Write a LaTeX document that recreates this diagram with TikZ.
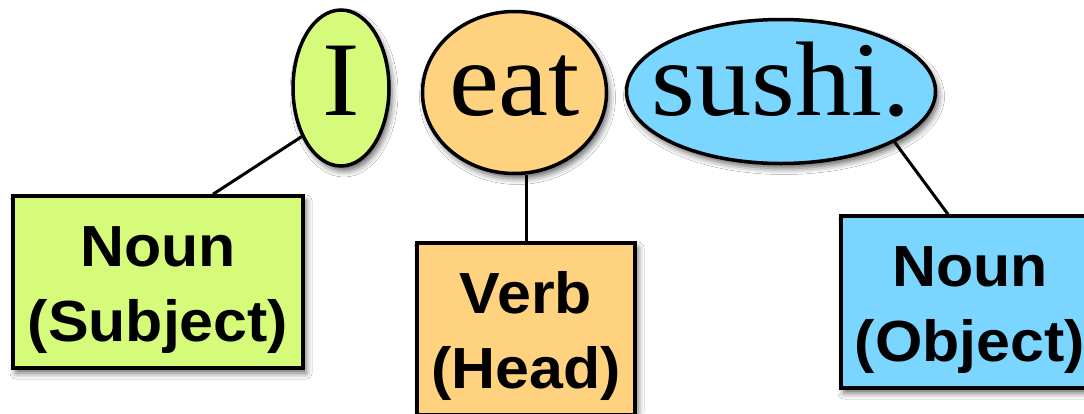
\documentclass[tikz,border=0pt]{standalone}
\usepackage{fontspec}
\newfontfamily\wordfont[FakeStretch=1.06]{Liberation Serif}
\newfontfamily\labfont[FakeStretch=1.05]{Liberation Sans Bold}
\usetikzlibrary{shapes.geometric,shadows.blur}
\definecolor{cgreen}{HTML}{D6FA7A}
\definecolor{corange}{HTML}{FED27E}
\definecolor{cblue}{HTML}{7AD5FF}
\tikzset{
  myshadow/.style={blur shadow={shadow xshift=3pt, shadow yshift=-5pt, shadow blur radius=6pt, shadow opacity=60}},
  word/.style={ellipse, draw=black, line width=3.5pt, inner sep=0pt, text depth=0pt,
    font=\fontsize{106}{106}\wordfont, myshadow},
  tag/.style={rectangle, draw=black, line width=3.5pt, inner sep=0pt, align=center,
    minimum height=172pt, font=\fontsize{58}{75}\labfont, myshadow},
  link/.style={line width=3pt, draw=black}
}
\begin{document}
\begin{tikzpicture}[x=1pt, y=-1pt]
\fill[white] (0,0) rectangle (1084,413);
\useasboundingbox (0,0) rectangle (1084,413);
% words
\node[word, fill=cgreen, minimum width=96pt, minimum height=156pt, text height=54pt] (I) at (341,88) {\makebox[0pt]{I}};
\node[word, fill=corange, minimum width=184pt, minimum height=162pt, text height=45pt] (eat) at (514.5,92.5) {\makebox[0pt]{eat}};
\node[word, fill=cblue, minimum width=309pt, minimum height=144pt, text height=47pt] (sushi) at (781,91.5) {\makebox[0pt]{sushi.}};
% tags
\node[tag, fill=cgreen, minimum width=290pt] (subj) at (158,282) {\rule{0pt}{57pt}Noun\\(Subject)};
\node[tag, fill=corange, minimum width=218pt] (verb) at (526,329) {\rule{0pt}{57pt}Verb\\(Head)};
\node[tag, fill=cblue, minimum width=258pt] (obj) at (970,302) {\rule{0pt}{57pt}Noun\\(Object)};
% connectors
\draw[link] (I.231) -- ([xshift=55pt]subj.north);
\draw[link] (eat.south -| verb.north) -- (verb.north);
\draw[link] (sushi.-24) -- ([xshift=-22pt]obj.north);
\end{tikzpicture}
\end{document}
